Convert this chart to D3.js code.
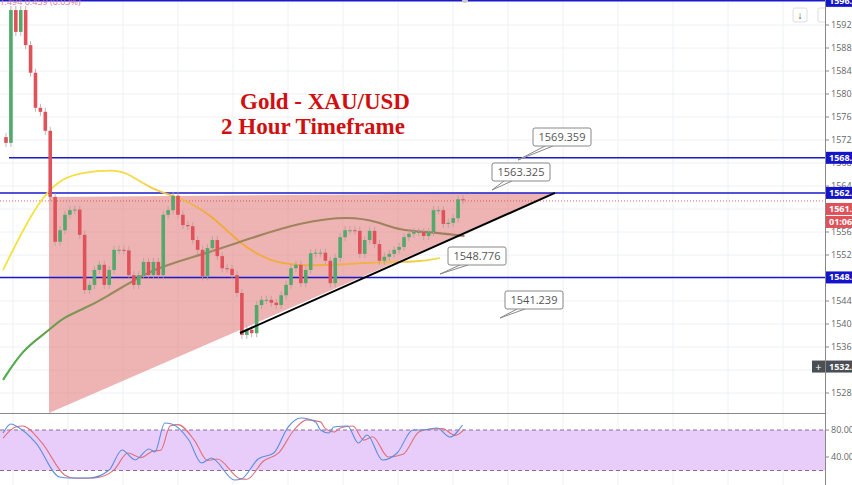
<!DOCTYPE html>
<html>
<head>
<style>
body { margin: 0; overflow: hidden; background: #fff; }
text { font-family: "Open Sans", sans-serif; }
</style>
<script src="https://d3js.org/d3.v7.min.js"></script>
</head>
<body>
<svg width="852" height="485"></svg>
<script>
// candle data (2h bars), open of first bar then closes
const firstOpen = 1572.5;
const closes = [1571.5, 1594.6, 1590.8, 1594.6, 1588.5, 1583.7, 1577.6, 1576.9, 1573.6, 1562.1,
  1554.3, 1556.3, 1559, 1559.8, 1559.9, 1555.5, 1545.9, 1546.8, 1549.4, 1550.3,
  1546.8, 1549.4, 1552.9, 1552.9, 1552.8, 1548.5, 1546.8, 1548.5, 1550.8, 1548.5,
  1550.8, 1548.5, 1559, 1559.8, 1562.3, 1559, 1557.2, 1557, 1554.6, 1552.9,
  1548.3, 1553.2, 1554.6, 1551.8, 1549.7, 1549.6, 1548.5, 1545.4, 1538.1, 1539,
  1538.4, 1543.3, 1544.2, 1544.2, 1543.7, 1543.3, 1545, 1546.8, 1549.7, 1550.3,
  1547.1, 1549.4, 1552.3, 1552.4, 1552.4, 1551, 1547.1, 1551.5, 1555.1, 1556.3,
  1556.3, 1556.2, 1552.2, 1554.6, 1556.2, 1553.9, 1551, 1551.7, 1552.2, 1552.9,
  1553.4, 1555.1, 1555.7, 1556, 1556, 1555.3, 1556, 1559.8, 1559.8, 1557.4,
  1557.6, 1558.4, 1561.7, 1561.5];

// moving averages [bar index, price]
const maFast = [[-0.6,1549.4],[3.4,1556.3],[7.5,1562.3],[11.5,1565.4],[15.6,1566.4],[21.6,1566.8],[24.6,1566.4],
  [29.7,1563.3],[35.8,1561.9],[41.8,1559],[47.9,1553.7],[53.9,1550.8],[60,1550.1],[68,1550.3],[76,1550.8],[84.2,1550.8],[88.3,1551.5]];
const maSlow = [[-0.6,1530.3],[3.4,1535.5],[7.5,1538.1],[9.5,1539.5],[11.5,1541],[15.6,1542.6],[19.6,1544.2],
  [29.7,1549.7],[39.8,1552],[50,1555],[60,1557.7],[70,1558.8],[76,1557.7],[80,1556.3],[86.3,1556],[93.3,1555.3]];

// stochastic [bar index, value]
const stochK = [[-0.6,75.6],[1,88.9],[2.4,84.4],[6.1,60.7],[10.9,10.4],[12.9,8.9],[17,8.9],[21,20.7],[23.6,50.4],[26.3,35.6],
  [29.1,51.9],[30.3,47.4],[32.3,90.4],[33.7,88.9],[37.2,65.2],[39.8,31.1],[41.8,38.5],[46.5,5.9],[47.9,7.4],[51.3,37],
  [54.5,45.9],[57.4,84.4],[60,97.8],[63,91.9],[64,80],[65.7,75.6],[66.7,84.4],[69.5,85.9],[71.7,60.7],[73.5,72.6],
  [76.6,35.6],[79.6,45.9],[82.8,80],[84.8,80],[87.7,83],[90.3,69.6],[92.9,87.4]];
const stochD = [[-0.6,68],[1.8,84],[3.4,86],[7.2,62],[12,13],[14,8.5],[18,9],[22,21],[24.8,46],[27.4,39],
  [30,49],[31.5,50],[33.4,86],[35,88],[38.4,64],[41,35],[43,37],[47.6,8],[49,7],[52.4,34],
  [55.6,47],[58.6,80],[61.2,95],[64,92],[65,82],[66.8,77],[68,83],[70.6,86],[72.8,65],[74.6,70],
  [77.8,40],[80.8,44],[84,77],[86,81],[88.8,82],[91.4,72],[93.3,81]];

const priceTicks = [1592, 1588, 1584, 1580, 1576, 1572, 1568, 1564, 1556, 1552, 1544, 1540, 1536, 1528];
const levels = [{p:1596.2, x0:0}, {p:1568.9, x0:9}, {p:1562.8, x0:0}, {p:1548.1, x0:0}];
const callouts = [
  {label:'1569.359', bx:533, by:128, tip:[518,160]},
  {label:'1563.325', bx:492, by:163, tip:[492,190]},
  {label:'1548.776', bx:448, by:247, tip:[440,274]},
  {label:'1541.239', bx:505, by:291, tip:[500,318]}];

const svg = d3.select('svg');
const axisX = 825;
const y = d3.scaleLinear().domain([1528, 1592]).range([393, 25]);
const x = d3.scaleLinear().domain([0, closes.length - 1]).range([6, 463]);
const yo = d3.scaleLinear().domain([40, 80]).range([457, 430]);

const defs = svg.append('defs');
defs.append('clipPath').attr('id', 'main').append('rect').attr('width', axisX).attr('height', 413);
defs.append('clipPath').attr('id', 'osc').append('rect').attr('y', 414).attr('width', axisX).attr('height', 71);

// grid
const grid = svg.append('g').attr('stroke', '#eef0f3');
d3.range(13, axisX, 55).forEach(gx => grid.append('line').attr('x1', gx).attr('x2', gx).attr('y1', 0).attr('y2', 485));
priceTicks.concat([1560, 1548, 1532]).forEach(p => grid.append('line').attr('x1', 0).attr('x2', axisX).attr('y1', y(p)).attr('y2', y(p)));

const main = svg.append('g').attr('clip-path', 'url(#main)');

// triangle zone
main.append('polygon')
  .attr('points', [[49, y(1562.1)], [555, y(1562.8)], [49, 413]].map(d => d.join(',')).join(' '))
  .attr('fill', '#e58a8a').attr('opacity', 0.65);

// horizontal levels
levels.forEach(l => main.append('line').attr('x1', l.x0).attr('x2', axisX).attr('y1', y(l.p)).attr('y2', y(l.p))
  .attr('stroke', '#1a1acc').attr('stroke-width', 1.5));
main.append('line').attr('x1', 0).attr('x2', axisX).attr('y1', y(1561.4)).attr('y2', y(1561.4))
  .attr('stroke', '#c44').attr('stroke-dasharray', '1,2').attr('stroke-width', 0.8);

// moving averages with gradients
const gF = defs.append('linearGradient').attr('id', 'gf').attr('gradientUnits', 'userSpaceOnUse')
  .attr('x1', 0).attr('x2', 460).attr('y1', 0).attr('y2', 0);
[[0, '#f2e43a'], [0.3, '#f5d84a'], [0.45, '#f2a93a'], [0.8, '#f2b040'], [1, '#f0ea50']].forEach(s =>
  gF.append('stop').attr('offset', s[0]).attr('stop-color', s[1]));
const gS = defs.append('linearGradient').attr('id', 'gs').attr('gradientUnits', 'userSpaceOnUse')
  .attr('x1', 0).attr('x2', 460).attr('y1', 0).attr('y2', 0);
[[0, '#4caf50'], [0.12, '#6a9e50'], [0.25, '#9c8a5e'], [1, '#a0805e']].forEach(s =>
  gS.append('stop').attr('offset', s[0]).attr('stop-color', s[1]));
const line = d3.line().x(d => x(d[0])).y(d => y(d[1])).curve(d3.curveBasis);
main.append('path').attr('d', line(maFast)).attr('fill', 'none').attr('stroke', 'url(#gf)').attr('stroke-width', 1.8);
main.append('path').attr('d', line(maSlow)).attr('fill', 'none').attr('stroke', 'url(#gs)').attr('stroke-width', 2.2);

// candles
const bars = closes.map((c, i) => {
  const o = i === 0 ? firstOpen : closes[i - 1];
  return {i, o, c, h: Math.max(o, c) + 0.7, l: Math.min(o, c) - 0.7};
});
const cg = main.append('g');
bars.forEach(b => {
  const col = b.c >= b.o ? '#53a86b' : '#e0525a';
  cg.append('line').attr('x1', x(b.i)).attr('x2', x(b.i)).attr('y1', y(b.h)).attr('y2', y(b.l)).attr('stroke', '#b0a0a0').attr('stroke-width', 0.8);
  cg.append('rect').attr('x', x(b.i) - 1.8).attr('width', 3.6)
    .attr('y', y(Math.max(b.o, b.c))).attr('height', Math.max(1, Math.abs(y(b.o) - y(b.c)))).attr('fill', col);
});

// trend line
main.append('line').attr('x1', 240).attr('y1', 333).attr('x2', 555).attr('y2', y(1562.8))
  .attr('stroke', '#000').attr('stroke-width', 2);

// callouts
callouts.forEach(c => {
  const g = main.append('g');
  g.append('path').attr('d', `M${c.bx + 12},${c.by + 18} L${c.tip[0]},${c.tip[1]} L${c.bx + 20},${c.by + 18}`)
    .attr('fill', '#fff').attr('stroke', '#888');
  g.append('rect').attr('x', c.bx).attr('y', c.by).attr('width', 58).attr('height', 18).attr('rx', 2)
    .attr('fill', '#fff').attr('stroke', '#888');
  g.append('text').attr('x', c.bx + 29).attr('y', c.by + 13).attr('text-anchor', 'middle')
    .attr('font-size', 11).attr('fill', '#555').text(c.label);
});

// title
const tt = main.append('g').attr('font-weight', 'bold').attr('fill', '#d01010').attr('font-size', 23);
tt.append('text').attr('x', 325).attr('y', 109).attr('text-anchor', 'middle').style('font-family', '"Liberation Serif", serif').text('Gold - XAU/USD');
tt.append('text').attr('x', 313).attr('y', 134).attr('text-anchor', 'middle').style('font-family', '"Liberation Serif", serif').text('2 Hour Timeframe');

main.append('text').attr('x', -16).attr('y', 5).attr('font-size', 9).attr('fill', '#d67aa0').text('1561.494   0.459 (0.03%)');
main.append('circle').attr('cx', 465).attr('cy', 0).attr('r', 3).attr('fill', '#ccc');
[[803, 8], [828, 8]].forEach(p => main.append('rect').attr('x', p[0] - 10).attr('y', p[1]).attr('width', 14).attr('height', 14).attr('rx', 2).attr('fill', '#fff').attr('stroke', '#ddd'));
main.append('text').attr('x', 800).attr('y', 19).attr('font-size', 10).attr('text-anchor', 'middle').attr('fill', '#444').text('↓');
main.append('circle').attr('cx', 833).attr('cy', 1).attr('r', 5).attr('fill', '#f0a060');

// oscillator pane
svg.append('line').attr('x1', 0).attr('x2', axisX).attr('y1', 413.5).attr('y2', 413.5).attr('stroke', '#888');
const osc = svg.append('g').attr('clip-path', 'url(#osc)');
osc.append('rect').attr('x', 0).attr('width', axisX).attr('y', yo(80)).attr('height', yo(20) - yo(80)).attr('fill', '#e8ccfa');
[80, 20].forEach(v => osc.append('line').attr('x1', 0).attr('x2', axisX).attr('y1', yo(v)).attr('y2', yo(v))
  .attr('stroke', '#8a6f95').attr('stroke-dasharray', '4,3'));
const sl = d3.line().x(d => x(d[0])).y(d => yo(d[1])).curve(d3.curveMonotoneX);
osc.append('path').attr('d', sl(stochD)).attr('fill', 'none').attr('stroke', '#e0707a').attr('stroke-width', 1.1);
osc.append('path').attr('d', sl(stochK)).attr('fill', 'none').attr('stroke', '#5b8fdc').attr('stroke-width', 1.1);

// price axis
svg.append('line').attr('x1', axisX + 0.5).attr('x2', axisX + 0.5).attr('y1', 0).attr('y2', 485).attr('stroke', '#888');
const ax = svg.append('g').attr('font-size', 9).attr('fill', '#666');
priceTicks.forEach(p => {
  ax.append('line').attr('x1', axisX).attr('x2', axisX + 4).attr('y1', y(p)).attr('y2', y(p)).attr('stroke', '#888');
  ax.append('text').attr('x', axisX + 6).attr('y', y(p) + 3).text(p.toFixed(1));
});
[80, 40].forEach(v => {
  ax.append('line').attr('x1', axisX).attr('x2', axisX + 4).attr('y1', yo(v)).attr('y2', yo(v)).attr('stroke', '#888');
  ax.append('text').attr('x', axisX + 6).attr('y', yo(v) + 3).text(v.toFixed(2));
});
const tags = [
  {t:'1596.2', yy:y(1596.2), c:'#1414c8'}, {t:'1568.9', yy:y(1568.9), c:'#1414c8'},
  {t:'1562.8', yy:y(1562.8), c:'#1414c8'}, {t:'1561.4', yy:y(1561.4) + 8, c:'#e0525a'},
  {t:'01:06:', yy:y(1561.4) + 21, c:'#e0525a'}, {t:'1548.1', yy:y(1548.1), c:'#1414c8'},
  {t:'1532.6', yy:y(1532.6), c:'#4a4f55'}];
tags.forEach(g => {
  ax.append('rect').attr('x', axisX + 1).attr('y', g.yy - 6).attr('width', 30).attr('height', 12).attr('fill', g.c);
  ax.append('text').attr('x', axisX + 4).attr('y', g.yy + 3).attr('fill', '#fff').attr('font-weight', 'bold').text(g.t);
});
ax.append('rect').attr('x', 812).attr('y', y(1532.6) - 6).attr('width', 13).attr('height', 12).attr('fill', '#4a4f55');
ax.append('text').attr('x', 818.5).attr('y', y(1532.6) + 4).attr('text-anchor', 'middle').attr('fill', '#fff').attr('font-size', 11).text('+');
</script>
</body>
</html>
